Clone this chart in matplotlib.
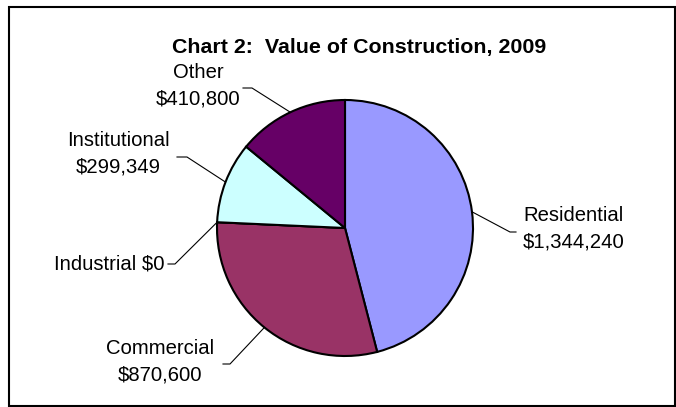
import matplotlib
matplotlib.use("Agg")
import matplotlib.pyplot as plt
import numpy as np

plt.rcParams['font.family'] = ['Liberation Sans', 'DejaVu Sans']

categories = ["Residential", "Commercial", "Industrial", "Institutional", "Other"]
values = [1344240, 870600, 0, 299349, 410800]
colors = ["#9999FF", "#993366", "#FFFFCC", "#CCFFFF", "#660066"]
title = "Chart 2:  Value of Construction, 2009"

W, H = 676, 407
fig = plt.figure(figsize=(W / 100, H / 100), dpi=100)
ax = fig.add_axes([0, 0, 1, 1])


def Y(py):
    return H - py


cx, cy, r = 345, Y(228), 128
wedges, _ = ax.pie(values, colors=colors, startangle=90, counterclock=False,
                   center=(cx, cy), radius=r, frame=True,
                   wedgeprops=dict(edgecolor='black', linewidth=1.5))
ax.set_xlim(0, W)
ax.set_ylim(0, H)
ax.axis('off')

# label layout: (text x, text y, ha, knee x, knee y, end x)
layout = {
    "Residential": (523, 229, 'left', 510, 232, 516),
    "Commercial": (160, 362, 'center', 230, 364, 223),
    "Industrial": (165, 264, 'right', 175, 264, 168),
    "Institutional": (118, 154, 'center', 187, 157, 177),
    "Other": (198, 86, 'center', 252, 88, 243),
}

for w, cat, val in zip(wedges, categories, values):
    mid = np.deg2rad((w.theta1 + w.theta2) / 2)
    ax_pt = (cx + r * np.cos(mid), cy + r * np.sin(mid))
    tx, ty, ha, kx, ky, ex = layout[cat]
    if val == 0:
        txt = f"{cat} ${val:,}"
    else:
        txt = f"{cat}\n${val:,}"
    ax.plot([ax_pt[0], kx, ex], [ax_pt[1], Y(ky), Y(ky)], color='black', lw=0.8)
    ax.text(tx, Y(ty), txt, ha=ha, va='center', multialignment='center',
            fontsize=14.6, linespacing=1.48, color='black')

ax.text(359, Y(47), title, ha='center', va='center', fontsize=15.4, fontweight='bold')

rect = plt.Rectangle((9, Y(405.5)), 666, 398.5, fill=False, edgecolor='black', lw=1.5,
                     clip_on=True)
ax.add_patch(rect)

fig.savefig("out.png", dpi=100, facecolor='white')
